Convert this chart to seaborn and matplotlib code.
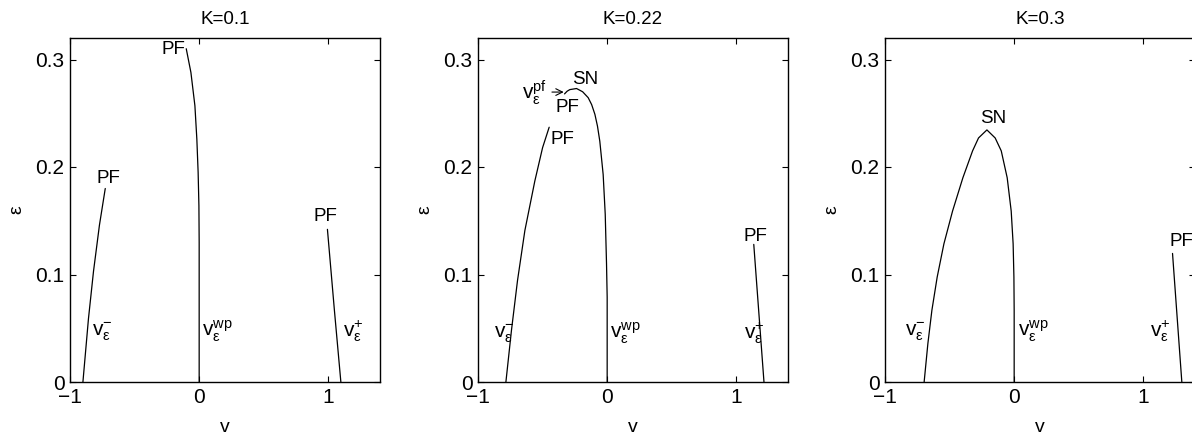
import numpy as np
import pandas as pd
import seaborn as sns
from matplotlib import pyplot as plt

# K = 0.1
k1_left_v = [-0.90, -0.857, -0.818, -0.772, -0.727]
k1_left_e = [0.0, 0.059, 0.103, 0.146, 0.180]
k1_mid_v = [0.0, 0.0, -0.002, -0.008, -0.018, -0.033, -0.064, -0.10]
k1_mid_e = [0.0, 0.13, 0.164, 0.195, 0.226, 0.257, 0.288, 0.310]
k1_right_v = [1.097, 1.047, 0.993]
k1_right_e = [0.0, 0.0667, 0.142]

# K = 0.22
k2_left_v = [-0.784, -0.741, -0.694, -0.637, -0.56, -0.50, -0.449]
k2_left_e = [0.0, 0.048, 0.0945, 0.141, 0.187, 0.218, 0.237]
k2_mid_v = [-0.33, -0.31, -0.289, -0.237, -0.19, -0.147, -0.12, -0.095,
            -0.075, -0.057, -0.031, -0.015, -0.005, 0.0, 0.0]
k2_mid_e = [0.268, 0.2705, 0.272, 0.273, 0.270, 0.2645, 0.258, 0.249,
            0.238, 0.224, 0.193, 0.156, 0.11, 0.079, 0.0]
k2_right_v = [1.214, 1.135]
k2_right_e = [0.0, 0.128]

# K = 0.3
k3_mid_v = [-0.697, -0.668, -0.637, -0.596, -0.544, -0.477, -0.397, -0.322,
            -0.276, -0.211, -0.147, -0.10, -0.054, -0.023, -0.008, -0.002,
            0.0, 0.0]
k3_mid_e = [0.0, 0.0358, 0.0667, 0.0976, 0.1285, 0.159, 0.190, 0.215,
            0.227, 0.2345, 0.227, 0.215, 0.190, 0.159, 0.1285, 0.0976,
            0.0667, 0.0]
k3_right_v = [1.298, 1.226]
k3_right_e = [0.0, 0.1196]

titles = ['K=0.1', 'K=0.22', 'K=0.3']
curves = [
    [(k1_left_v, k1_left_e), (k1_mid_v, k1_mid_e), (k1_right_v, k1_right_e)],
    [(k2_left_v, k2_left_e), (k2_mid_v, k2_mid_e), (k2_right_v, k2_right_e)],
    [(k3_mid_v, k3_mid_e), (k3_right_v, k3_right_e)],
]

vm = r'$\mathrm{v}_{\epsilon}^{-}$'
vp = r'$\mathrm{v}_{\epsilon}^{+}$'
vwp = r'$\mathrm{v}_{\epsilon}^{wp}$'
vpf = r'$\mathrm{v}_{\epsilon}^{pf}$'

# (text, v, eps, ha)
labels = [
    [('PF', -0.108, 0.309, 'right'), ('PF', -0.797, 0.189, 'left'),
     ('PF', 0.888, 0.154, 'left'),
     (vm, -0.83, 0.047, 'left'), (vwp, 0.02, 0.047, 'left'),
     (vp, 1.11, 0.047, 'left')],
    [('SN', -0.27, 0.281, 'left'), ('PF', -0.40, 0.255, 'left'),
     ('PF', -0.441, 0.2258, 'left'), ('PF', 1.053, 0.135, 'left'),
     (vpf, -0.658, 0.269, 'left'),
     (vm, -0.88, 0.045, 'left'), (vwp, 0.02, 0.045, 'left'),
     (vp, 1.06, 0.045, 'left')],
    [('SN', -0.263, 0.245, 'left'), ('PF', 1.20, 0.131, 'left'),
     (vm, -0.845, 0.047, 'left'), (vwp, 0.026, 0.047, 'left'),
     (vp, 1.05, 0.047, 'left')],
]

sns.set_theme(style='ticks')
plt.rcParams['font.family'] = ['Liberation Sans', 'DejaVu Sans']
plt.rcParams['mathtext.fontset'] = 'custom'
plt.rcParams['mathtext.rm'] = 'Liberation Sans'
plt.rcParams['mathtext.it'] = 'Liberation Sans'
for key in ['text.color', 'axes.labelcolor', 'xtick.color', 'ytick.color',
            'axes.edgecolor']:
    plt.rcParams[key] = 'black'

fig = plt.figure(figsize=(11.92, 4.32), dpi=100)
lefts = [70 / 1192, 478 / 1192, 885 / 1192]

for i in range(3):
    ax = fig.add_axes([lefts[i], 50 / 432, 310 / 1192, 344 / 432])
    for v, e in curves[i]:
        df = pd.DataFrame({'v': v, 'eps': e})
        sns.lineplot(data=df, x='v', y='eps', sort=False, estimator=None,
                     color='black', lw=0.9, ax=ax)
    for txt, x, y, ha in labels[i]:
        ax.text(x, y, txt, ha=ha, va='center',
                fontsize=15 if txt.startswith('$') else 13.5)
    if i == 1:
        ax.annotate('', xy=(-0.315, 0.2697), xytext=(-0.449, 0.2697),
                    arrowprops=dict(arrowstyle='->', lw=0.8, color='black'))
    ax.set_xlim(-1, 1.4)
    ax.set_ylim(0, 0.32)
    ax.set_xticks([-1, 0, 1])
    ax.set_xticklabels(['\u22121', '0', '1'])
    ax.set_yticks([0, 0.1, 0.2, 0.3])
    ax.set_yticklabels(['0', '0.1', '0.2', '0.3'])
    ax.tick_params(direction='in', top=True, right=True, length=4, width=0.8,
                   labelsize=15, pad=4)
    for s in ax.spines.values():
        s.set_linewidth(1.0)
    ax.set_title(titles[i], fontsize=13.5, pad=10)
    ax.set_xlabel('v', fontsize=14, labelpad=9)
    ax.set_ylabel('ε', fontsize=14, labelpad=7)

fig.savefig('out.png', dpi=100)
